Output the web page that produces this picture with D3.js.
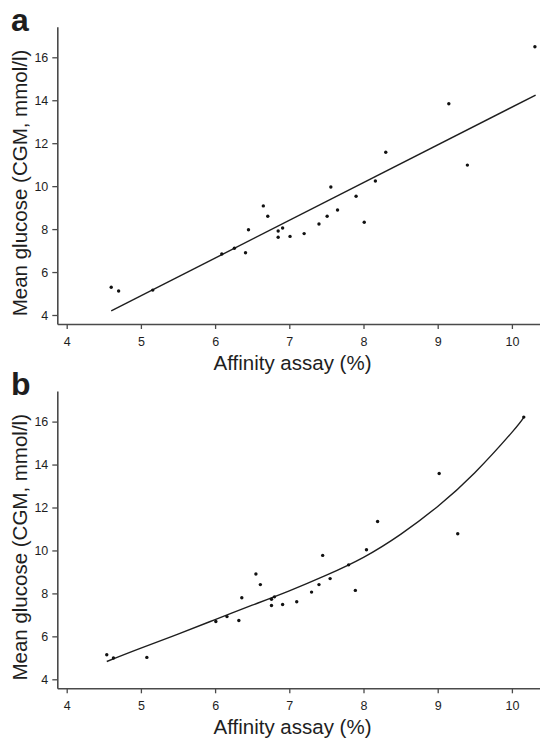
<!DOCTYPE html>
<html>

<head>
    <meta charset="utf-8">
    <script src="https://cdn.jsdelivr.net/npm/d3@7"></script>
    <style>
        body { margin: 0; background: #fff; }
        text { font-family: "Liberation Sans", Arial, sans-serif; fill: #1e1e1e; }
    </style>
</head>

<body>
    <svg class="MainSvg"></svg>
</body>
<script>
    // tick labels
    var xTicks = [4, 5, 6, 7, 8, 9, 10];
    var yTicks = [4, 6, 8, 10, 12, 14, 16];

    // panel a: affinity assay (%) vs mean glucose (CGM, mmol/l)
    var affinityA = [4.60, 4.70, 5.16, 6.09, 6.26, 6.41, 6.45, 6.65, 6.71, 6.85, 6.85, 6.91, 7.01,
        7.20, 7.40, 7.51, 7.56, 7.65, 7.90, 8.01, 8.16, 8.30, 9.15, 9.40, 10.31];
    var glucoseA = [5.29, 5.12, 5.16, 6.84, 7.11, 6.90, 7.97, 9.08, 8.60, 7.91, 7.62, 8.05, 7.66,
        7.79, 8.24, 8.60, 9.96, 8.89, 9.53, 8.32, 10.24, 11.58, 13.84, 10.98, 16.49];
    // regression line (end points)
    var fitXA = [4.60, 10.32];
    var fitYA = [4.19, 14.24];

    // panel b
    var affinityB = [4.54, 4.63, 5.08, 6.01, 6.16, 6.32, 6.36, 6.55, 6.61, 6.76, 6.76, 6.80, 6.91,
        7.10, 7.30, 7.40, 7.45, 7.55, 7.80, 7.89, 8.04, 8.19, 9.02, 9.27, 10.16];
    var glucoseB = [5.14, 4.99, 5.02, 6.69, 6.92, 6.74, 7.80, 8.90, 8.41, 7.73, 7.44, 7.84, 7.48,
        7.61, 8.06, 8.41, 9.77, 8.69, 9.33, 8.14, 10.03, 11.35, 13.58, 10.78, 16.21];
    // fitted curve
    var fitXB = [4.54, 5.0, 5.5, 6.0, 6.5, 7.0, 7.5, 8.0, 8.5, 9.0, 9.5, 10.0, 10.16];
    var fitYB = [4.83, 5.45, 6.10, 6.78, 7.45, 8.12, 8.85, 9.68, 10.75, 12.05, 13.62, 15.5, 16.2];

    var width = 540, height = 739;
    var unitX = 74.2, unitY = 21.475;
    var axisLeftX = 57.3;

    var svg = d3.select(".MainSvg")
        .attr("width", width)
        .attr("height", height);

    function drawPanel(top, letter, xs, ys, fx, fy, curved) {
        var g = svg.append("g").attr("transform", "translate(0," + top + ")");

        // x: 4 -> 66.7 px
        var x0 = 4 - (66.7 - axisLeftX) / unitX;
        var xScale = d3.scaleLinear()
            .domain([x0, x0 + (width - axisLeftX) / unitX])
            .range([axisLeftX, width]);
        // y: 4 -> 315, 16 -> 57.3 (panel local)
        var yScale = d3.scaleLinear()
            .domain([4 - 9 / unitY, 16 + 30.6 / unitY])
            .range([324, 26.7]);

        var xAxis = d3.axisBottom(xScale)
            .tickValues(xTicks)
            .tickFormat(d3.format("d"))
            .tickSize(5)
            .tickPadding(8)
            .tickSizeOuter(0);
        var yAxis = d3.axisLeft(yScale)
            .tickValues(yTicks)
            .tickFormat(d3.format("d"))
            .tickSize(5)
            .tickPadding(4)
            .tickSizeOuter(0);

        var gx = g.append("g")
            .attr("class", "x axis")
            .attr("transform", "translate(0,324)")
            .call(xAxis);
        var gy = g.append("g")
            .attr("class", "y axis")
            .attr("transform", "translate(" + axisLeftX + ",0)")
            .call(yAxis);
        [gx, gy].forEach(function (a) {
            a.select(".domain").attr("stroke", "#4a4a4a").attr("stroke-width", 1.6);
            a.selectAll(".tick line").attr("stroke", "#4a4a4a").attr("stroke-width", 1.3);
            a.selectAll(".tick text")
                .style("font-family", "'Liberation Sans', Arial, sans-serif")
                .style("font-size", "12.5px")
                .attr("fill", "#1e1e1e");
        });

        // fit line / curve
        var line = d3.line()
            .x(function (d) { return xScale(d[0]); })
            .y(function (d) { return yScale(d[1]); })
            .curve(curved ? d3.curveNatural : d3.curveLinear);
        g.append("path")
            .datum(d3.zip(fx, fy))
            .attr("d", line)
            .attr("fill", "none")
            .attr("stroke", "#1e1e1e")
            .attr("stroke-width", 1.4);

        // points
        g.selectAll("circle")
            .data(d3.zip(xs, ys))
            .enter()
            .append("circle")
            .attr("cx", function (d) { return xScale(d[0]); })
            .attr("cy", function (d) { return yScale(d[1]); })
            .attr("r", 1.7)
            .attr("fill", "#111");

        // labels
        g.append("text")
            .attr("x", 292.5)
            .attr("y", 370)
            .attr("text-anchor", "middle")
            .style("font-size", "20.5px")
            .text("Affinity assay (%)");
        g.append("text")
            .attr("transform", "translate(27,183) rotate(-90)")
            .attr("text-anchor", "middle")
            .style("font-size", "20.5px")
            .text("Mean glucose (CGM, mmol/l)");
        g.append("text")
            .attr("x", 11)
            .attr("y", 30.7)
            .style("font-size", "32px")
            .style("font-weight", "bold")
            .text(letter);
    }

    drawPanel(0, "a", affinityA, glucoseA, fitXA, fitYA, false);
    drawPanel(364.3, "b", affinityB, glucoseB, fitXB, fitYB, true);
</script>

</html>
